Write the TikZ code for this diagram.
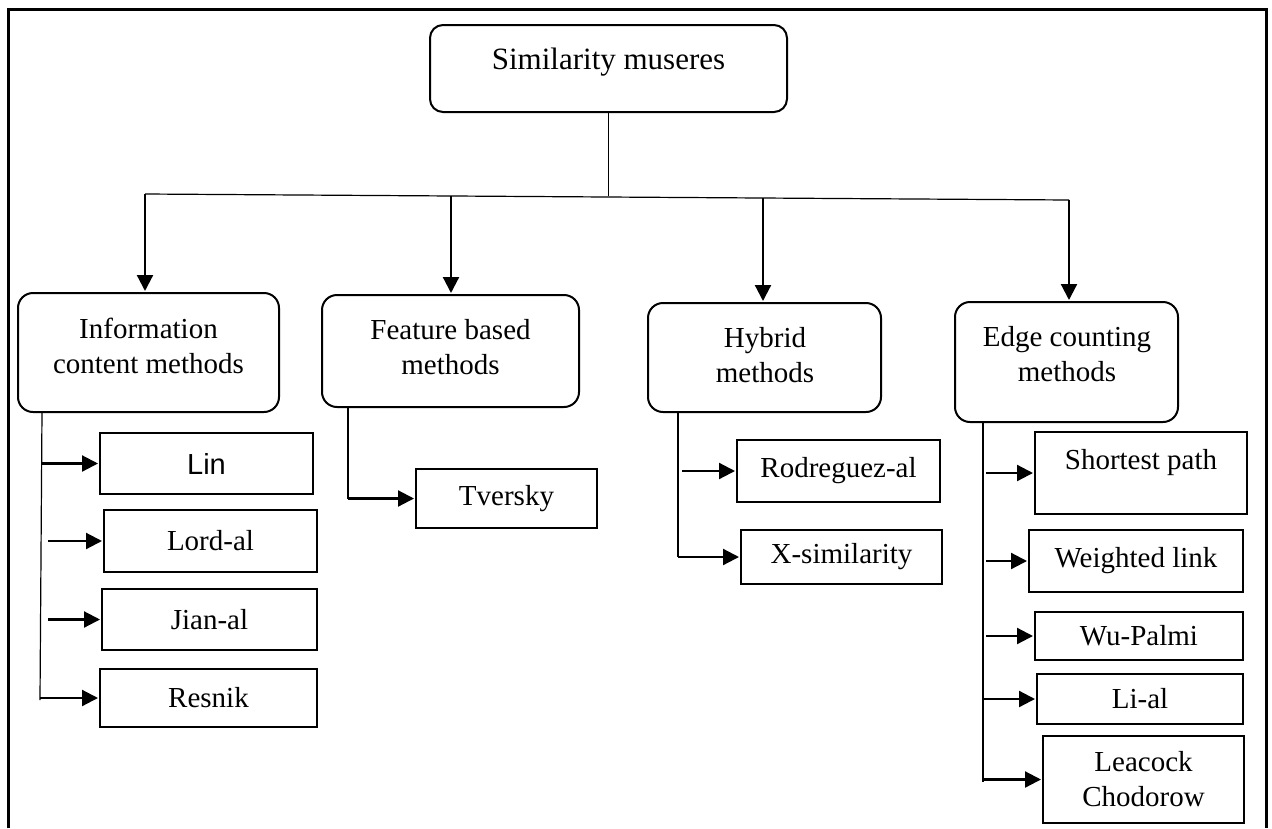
\documentclass[tikz,border=0pt]{standalone}
\usepackage{fontspec}
\setmainfont{Liberation Serif}
\newfontfamily\arialfont{Liberation Sans}
\usetikzlibrary{arrows.meta}

\newcommand\diagfont{\fontsize{29pt}{35pt}\selectfont}

\tikzset{
  frame/.style={line width=3pt},
  catbox/.style={draw, line width=2pt, rounded corners=15pt, inner sep=0pt},
  leafbox/.style={draw, line width=2pt, inner sep=0pt, font=\diagfont, align=center},
  txt/.style={font=\diagfont, align=center, inner sep=0pt},
  trunk/.style={line width=1.2pt},
  arr/.style={line width=2.2pt, -{Triangle[length=16pt,width=16pt]}, shorten >=1pt},
}

\begin{document}
\begin{tikzpicture}[x=1pt,y=-1pt]
  \useasboundingbox (0,0) rectangle (1272,828);

  % outer frame (open at the bottom)
  \draw[frame] (8.5,828) -- (8.5,9) -- (1266,9) -- (1266,828);

  % root
  \node[catbox, rounded corners=13pt, minimum width=357pt, minimum height=87pt] (root) at (608.5,68.5) {};
  \node[txt, font=\fontsize{31pt}{36pt}\selectfont] (rootText) at (608.5,62) {Similarity museres};

  % categories
  \node[catbox, minimum width=261pt, minimum height=119pt] (info) at (148.5,352.5) {};
  \node[txt] (infoText) at (148.5,345.5) {Information\\content methods};
  \node[catbox, minimum width=257pt, minimum height=112pt] (feat) at (450.5,351) {};
  \node[txt] (featText) at (450.5,347.5) {Feature based\\methods};
  \node[catbox, minimum width=233pt, minimum height=109pt] (hyb) at (764.5,357.5) {};
  \node[txt] (hybText) at (765,355) {Hybrid\\methods};
  \node[catbox, minimum width=223pt, minimum height=120pt] (edge) at (1066.5,362) {};
  \node[txt] (edgeText) at (1067,354.5) {Edge counting\\methods};

  % bus from the root to the four categories
  \coordinate (busJ) at (608.5,196);
  \coordinate (busL) at (145,194);
  \coordinate (busR) at (1069,200);
  \coordinate (busB) at (451,196);
  \coordinate (busC) at (763,198);
  \draw[trunk] (root.south) -- (busJ);
  \draw[trunk] (busL) -- (busR);
  \draw[arr] (busL) -- (busL |- info.north);
  \draw[arr] (busB) -- (busB |- feat.north);
  \draw[arr] (busC) -- (busC |- hyb.north);
  \draw[arr] (busR) -- (busR |- edge.north);

  % information content methods
  \node[leafbox, font=\fontsize{29pt}{35pt}\arialfont, minimum width=213pt, minimum height=61pt] (lin) at (206.5,463.5) {Lin};
  \node[leafbox, minimum width=213pt, minimum height=62pt] (lord) at (210.5,541) {Lord-al};
  \node[leafbox, minimum width=215pt, minimum height=61pt] (jian) at (209.5,619.5) {Jian-al};
  \node[leafbox, minimum width=217pt, minimum height=58pt] (resnik) at (208.5,698) {Resnik};
  \coordinate (iT) at (42,412);
  \coordinate (iB) at (40,700);
  \coordinate (iS) at (48,0);
  \draw[trunk] (iT) -- (iB);
  \draw[arr] (lin.west -| iT) -- (lin.west);
  \draw[arr] (lord.west -| iS) -- (lord.west);
  \draw[arr] (jian.west -| iS) -- (jian.west);
  \draw[arr] (resnik.west -| iB) -- (resnik.west);

  % feature based methods
  \node[leafbox, minimum width=181pt, minimum height=59pt] (tv) at (506.5,498.5) {Tversky};
  \coordinate (fT) at (348,407);
  \draw[trunk] (fT) -- (fT |- tv.west);
  \draw[arr] (fT |- tv.west) -- (tv.west);

  % hybrid methods
  \node[leafbox, minimum width=203pt, minimum height=62pt] (rod) at (838.5,471) {Rodreguez-al};
  \node[leafbox, minimum width=201pt, minimum height=54pt] (xsim) at (841.5,557) {X-similarity};
  \coordinate (hT) at (678,412);
  \coordinate (hS) at (682,0);
  \draw[trunk] (hT) -- (hT |- xsim.west);
  \draw[arr] (rod.west -| hS) -- (rod.west);
  \draw[arr] (xsim.west -| hT) -- (xsim.west);

  % edge counting methods
  \node[leafbox, minimum width=212pt, minimum height=82pt] (sp) at (1141,473) {};
  \node[txt] (spText) at (1141,463) {Shortest path};
  \node[leafbox, minimum width=214pt, minimum height=62pt] (wl) at (1136,561) {Weighted link};
  \node[leafbox, minimum width=208pt, minimum height=48pt] (wu) at (1139,636) {Wu-Palmi};
  \node[leafbox, minimum width=206pt, minimum height=50pt] (li) at (1140,699) {Li-al};
  \node[leafbox, minimum width=201pt, minimum height=87pt] (lc) at (1143.5,779.5) {Leacock\\Chodorow};
  \coordinate (eT) at (983,422);
  \coordinate (eB) at (983,782);
  \coordinate (eS) at (986,0);
  \draw[trunk] (eT) -- (eB);
  \draw[arr] (sp.west -| eS) -- (sp.west);
  \draw[arr] (wl.west -| eS) -- (wl.west);
  \draw[arr] (wu.west -| eS) -- (wu.west);
  \draw[arr] (li.west -| eT) -- (li.west);
  \draw[arr] (lc.west -| eT) -- (lc.west);
\end{tikzpicture}
\end{document}
